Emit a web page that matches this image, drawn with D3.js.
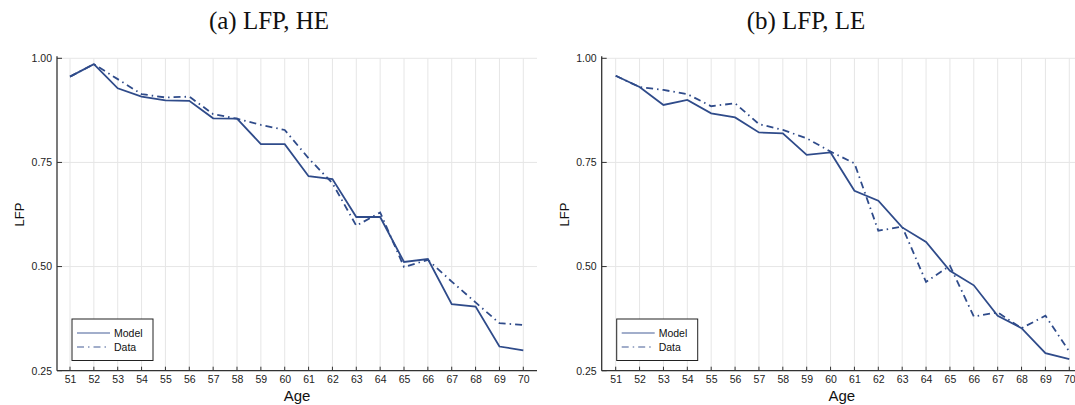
<!DOCTYPE html>
<html>
<head>
<meta charset="utf-8">
<script src="https://cdn.jsdelivr.net/npm/d3@7"></script>
<style>
  html, body { margin: 0; padding: 0; background: #fff; }
  svg { display: block; }
</style>
</head>
<body>
<svg id="chart" width="1075" height="405"></svg>
<script>
// Ages on the horizontal axis
const ages = [51,52,53,54,55,56,57,58,59,60,61,62,63,64,65,66,67,68,69,70];

// Labour-force participation, high education
const modelHE = [0.956,0.986,0.928,0.908,0.899,0.898,0.856,0.855,0.794,0.794,
                 0.717,0.710,0.619,0.619,0.511,0.518,0.410,0.404,0.308,0.299];
const dataHE  = [0.956,0.986,0.950,0.914,0.906,0.908,0.866,0.855,0.840,0.828,
                 0.760,0.700,0.598,0.630,0.499,0.516,0.464,0.414,0.364,0.360];

// Labour-force participation, low education
const modelLE = [0.958,0.931,0.888,0.900,0.868,0.858,0.822,0.820,0.768,0.774,
                 0.682,0.658,0.594,0.559,0.490,0.455,0.382,0.352,0.292,0.278];
const dataLE  = [0.958,0.931,0.924,0.914,0.885,0.892,0.842,0.828,0.808,0.776,
                 0.748,0.586,0.596,0.463,0.502,0.380,0.390,0.352,0.382,0.296];

const yTicks = [0.25, 0.50, 0.75, 1.00];
const panelTitles = ["(a) LFP, HE", "(b) LFP, LE"];
const seriesNames = ["Model", "Data"];

const lineColor = "#2f4b8a";
const svg = d3.select("#chart");

function drawPanel(opts) {
  const { frameLeft, frameRight, firstX, lastX, titleX, title, model, data } = opts;
  const top = 58.3, bottom = 370.7;

  const x = d3.scaleLinear().domain([51, 70]).range([firstX, lastX]);
  const y = d3.scaleLinear().domain([0.25, 1.0]).range([bottom, top]);

  const g = svg.append("g");

  // grid
  g.append("g").selectAll("line").data(ages).join("line")
    .attr("x1", d => x(d)).attr("x2", d => x(d))
    .attr("y1", top).attr("y2", bottom)
    .attr("stroke", "#e6e6e6").attr("stroke-width", 1);
  g.append("g").selectAll("line").data(yTicks).join("line")
    .attr("x1", frameLeft).attr("x2", frameRight)
    .attr("y1", d => y(d)).attr("y2", d => y(d))
    .attr("stroke", "#e6e6e6").attr("stroke-width", 1);

  // axes
  const xAxis = d3.axisBottom(x).tickValues(ages).tickSize(0).tickPadding(5)
    .tickFormat(d3.format("d"));
  const gx = g.append("g").attr("transform", `translate(0,${bottom})`).call(xAxis);
  gx.select(".domain").remove();
  gx.selectAll("text").attr("font-family", "Liberation Sans, Arial, sans-serif")
    .attr("font-size", 10.5).attr("fill", "#222");

  const yAxis = d3.axisLeft(y).tickValues(yTicks).tickSize(0).tickPadding(5)
    .tickFormat(d3.format(".2f"));
  const gy = g.append("g").attr("transform", `translate(${frameLeft},0)`).call(yAxis);
  gy.select(".domain").remove();
  gy.selectAll("text").attr("font-family", "Liberation Sans, Arial, sans-serif")
    .attr("font-size", 10.5).attr("fill", "#222");

  // inward tick marks
  g.append("g").selectAll("line").data(ages).join("line")
    .attr("x1", d => x(d)).attr("x2", d => x(d))
    .attr("y1", bottom).attr("y2", bottom - 4)
    .attr("stroke", "#333").attr("stroke-width", 1);
  g.append("g").selectAll("line").data(yTicks).join("line")
    .attr("x1", frameLeft).attr("x2", frameLeft + 5)
    .attr("y1", d => y(d)).attr("y2", d => y(d))
    .attr("stroke", "#333").attr("stroke-width", 1);

  // axis spines
  g.append("line").attr("x1", frameLeft).attr("x2", frameRight)
    .attr("y1", bottom).attr("y2", bottom)
    .attr("stroke", "#333").attr("stroke-width", 1.3);
  g.append("line").attr("x1", frameLeft).attr("x2", frameLeft)
    .attr("y1", top - 2).attr("y2", bottom)
    .attr("stroke", "#333").attr("stroke-width", 1.3);

  // series
  const line = d3.line().x((d, i) => x(ages[i])).y(d => y(d));
  g.append("path").datum(data).attr("d", line)
    .attr("fill", "none").attr("stroke", lineColor).attr("stroke-width", 1.8)
    .attr("stroke-dasharray", "7,4,1.5,4");
  g.append("path").datum(model).attr("d", line)
    .attr("fill", "none").attr("stroke", lineColor).attr("stroke-width", 1.8)
    .attr("stroke-linejoin", "miter");

  // axis labels
  g.append("text").attr("x", (frameLeft + (opts.labelRight || frameRight)) / 2).attr("y", 401)
    .attr("text-anchor", "middle")
    .attr("font-family", "Liberation Sans, Arial, sans-serif").attr("font-size", 15)
    .attr("fill", "#111").text("Age");
  g.append("text")
    .attr("transform", `translate(${frameLeft - 33},${(top + bottom) / 2}) rotate(-90)`)
    .attr("text-anchor", "middle")
    .attr("font-family", "Liberation Sans, Arial, sans-serif").attr("font-size", 13)
    .attr("fill", "#111").text("LFP");

  // title
  svg.append("text").attr("x", titleX).attr("y", 29)
    .attr("text-anchor", "middle")
    .attr("font-family", "Liberation Serif, 'DejaVu Serif', serif").attr("font-size", 25)
    .attr("fill", "#111").text(title);

  // legend
  const lx = frameLeft + 15, ly = 319;
  const lg = g.append("g");
  lg.append("rect").attr("x", lx).attr("y", ly).attr("width", 81).attr("height", 41.5)
    .attr("fill", "#fff").attr("stroke", "#222").attr("stroke-width", 1);
  seriesNames.forEach((name, i) => {
    const yy = ly + 14 + i * 14;
    lg.append("line").attr("x1", lx + 5).attr("x2", lx + 38)
      .attr("y1", yy).attr("y2", yy)
      .attr("stroke", lineColor).attr("stroke-opacity", 0.6).attr("stroke-width", 1.6)
      .attr("stroke-dasharray", i === 1 ? "7,4,1.5,4" : null);
    lg.append("text").attr("x", lx + 42).attr("y", yy + 4)
      .attr("font-family", "Liberation Sans, Arial, sans-serif").attr("font-size", 10.5)
      .attr("fill", "#111").text(name);
  });
}

drawPanel({ frameLeft: 57, frameRight: 537, firstX: 70, lastX: 523.3,
            titleX: 269, title: panelTitles[0], model: modelHE, data: dataHE });
drawPanel({ frameLeft: 601.7, frameRight: 1075, labelRight: 1082, firstX: 615.7, lastX: 1069.3,
            titleX: 806, title: panelTitles[1], model: modelLE, data: dataLE });
</script>
</body>
</html>
